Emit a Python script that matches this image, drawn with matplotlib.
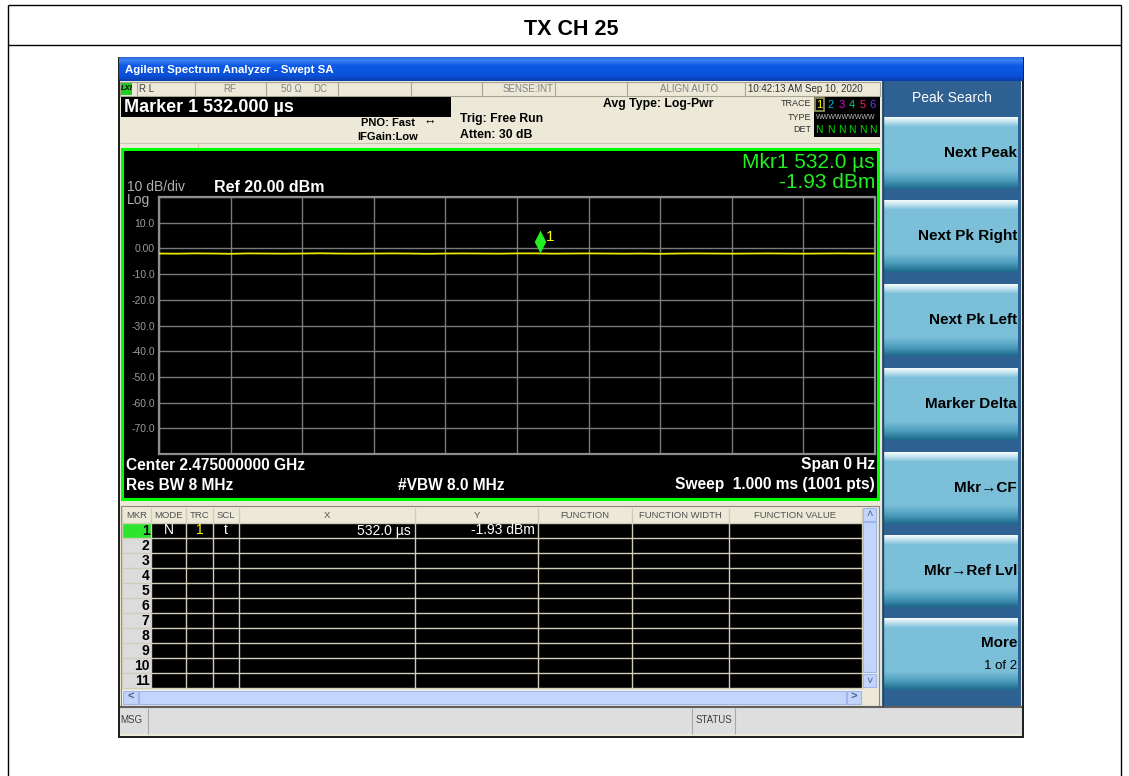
import numpy as np
import matplotlib
matplotlib.use("Agg")
import matplotlib.pyplot as plt
from matplotlib.patches import Rectangle
from matplotlib.colors import to_rgb

# ---------------- data ----------------
chart_title = "TX CH 25"
ref_level_dbm = 20.0
db_per_div = 10
y_ticks = [20, 10, 0, -10, -20, -30, -40, -50, -60, -70, -80]
y_tick_labels = ["", "10.0", "0.00", "-10.0", "-20.0", "-30.0", "-40.0", "-50.0", "-60.0", "-70.0", ""]
x_ticks_us = [0, 100, 200, 300, 400, 500, 600, 700, 800, 900, 1000]
trace_time_us = [0, 25, 50, 75, 100, 125, 150, 175, 200, 225, 250, 275, 300, 325, 350,
                 375, 400, 425, 450, 475, 500, 525, 550, 575, 600, 625, 650, 675, 700,
                 725, 750, 775, 800, 825, 850, 875, 900, 925, 950, 975, 1000]
trace_dbm = [-2.0, -2.05, -1.95, -2.0, -2.1, -1.95, -2.0, -2.05, -2.0, -1.9, -2.0, -2.05, -2.0,
             -1.95, -2.0, -2.1, -2.0, -1.95, -2.0, -2.05, -1.95, -1.93, -2.05, -2.0, -1.95, -2.0,
             -2.05, -2.0, -2.1, -2.0, -1.95, -2.0, -2.05, -2.0, -1.95, -2.0, -2.05, -2.0, -1.95,
             -2.0, -2.0]
marker_x_us = 532.0
marker_y_dbm = -1.93
table_columns = ["MKR", "MODE", "TRC", "SCL", "X", "Y", "FUNCTION", "FUNCTION WIDTH", "FUNCTION VALUE"]
table_rows = ["1", "2", "3", "4", "5", "6", "7", "8", "9", "10", "11"]
softkeys = ["Next Peak", "Next Pk Right", "Next Pk Left", "Marker Delta",
            "Mkr\u2192CF", "Mkr\u2192Ref Lvl", "More"]

FONT = ["Liberation Sans", "DejaVu Sans"]
plt.rcParams["font.family"] = FONT

W, H = 1129, 776
fig = plt.figure(figsize=(W / 100, H / 100), dpi=100)
fig.patch.set_facecolor("white")
ov = fig.add_axes([0, 0, 1, 1])
ov.set_axis_off()

BEIGE = "#ECE9D8"


def rect(x0, y0, x1, y1, fc, ec="none", lw=0, z=1):
    ov.add_patch(Rectangle((x0, y0), x1 - x0, y1 - y0, facecolor=fc, edgecolor=ec,
                           linewidth=lw, zorder=z))


def line(x0, y0, x1, y1, c, lw=1, z=2):
    ov.plot([x0, x1], [y0, y1], color=c, lw=lw, zorder=z, solid_capstyle="butt")


def txt(x, y, s, size=8, color="black", ha="left", weight="normal", z=5, **kw):
    ov.text(x, y, s, fontsize=size, color=color, ha=ha, va="center", weight=weight,
            zorder=z, **kw)


def grad(x0, y0, x1, y1, stops, z=1):
    pos = [p for p, _ in stops]
    cols = np.array([to_rgb(c) for _, c in stops])
    n = max(int(y1 - y0), 2)
    t = np.linspace(0, 1, n)
    arr = np.stack([np.interp(t, pos, cols[:, k]) for k in range(3)], axis=-1)[:, None, :]
    ov.imshow(arr, extent=(x0, x1, y1, y0), aspect="auto", interpolation="bilinear", zorder=z)


# ---------- outer document frame ----------
line(8, 5, 1121, 5, "black", 1)
line(8, 5, 8, 776, "black", 1)
line(1121, 5, 1121, 776, "black", 1)
line(8, 45, 1121, 45, "black", 1)
txt(571, 29.5, chart_title, size=15.5, weight="bold", ha="center")

# ---------- screenshot frame ----------
rect(118, 57, 1024, 738, "#202020", z=0.5)
rect(120, 81, 1022, 736, BEIGE, z=0.6)
grad(119, 57, 1023, 81, [(0, "#2E6BD8"), (0.12, "#3C82F2"), (0.35, "#0D5AE6"),
                         (0.8, "#0A50D8"), (1, "#0A3FB0")], z=0.7)
txt(125, 70, "Agilent Spectrum Analyzer - Swept SA", size=8.2, color="white", weight="bold")

# status row
rect(120, 82, 880, 96, BEIGE, ec="#A8A490", lw=0.8, z=1)
for xd in [137, 195, 266, 338, 411, 482, 555, 627, 745]:
    line(xd, 82, xd, 96, "#A8A490", 0.8)
rect(121, 83, 132, 95, "#22CC22", z=1.5)
txt(126.5, 89, "LXI", size=5.5, weight="bold", ha="center", style="italic")
txt(139, 89, "R L", size=7, color="#404040")
txt(230, 89, "RF", size=7, color="#808080", ha="center")
txt(281, 89, "50 \u03a9", size=7, color="#808080")
txt(313, 89, "DC", size=7, color="#808080")
txt(553, 89, "SENSE:INT", size=7, color="#808080", ha="right")
txt(689, 89, "ALIGN AUTO", size=7, color="#808080", ha="center")
txt(748, 89, "10:42:13 AM Sep 10, 2020", size=7, color="#303030")

# marker readout box
rect(121, 97, 451, 117, "black", z=1.5)
txt(124, 107, "Marker 1 532.000 \u00b5s", size=13, color="white", weight="bold")
txt(361, 123, "PNO: Fast", size=8, weight="bold")
txt(357, 137, "IFGain:Low", size=8, weight="bold")
txt(424, 122, "\u2194", size=9, weight="bold")
txt(460, 119, "Trig: Free Run", size=8.8, weight="bold")
txt(460, 135, "Atten: 30 dB", size=8.8, weight="bold")
txt(603, 104, "Avg Type: Log-Pwr", size=8.8, weight="bold")
txt(811, 104, "TRACE", size=6.5, color="#303030", ha="right")
txt(811, 117, "TYPE", size=6.5, color="#303030", ha="right")
txt(811, 130, "DET", size=6.5, color="#303030", ha="right")
rect(814, 97, 880, 137, "black", z=1.5)
rect(814.5, 98, 823.5, 111, "none", ec="#9A9A60", lw=1.2, z=2)
trace_num_cols = ["#FFFF00", "#00B8C8", "#E000E0", "#00CC80", "#FF2060", "#6A3CFF"]
for i, (xx, cc) in enumerate(zip([819, 830.5, 841.5, 852, 862.5, 873], trace_num_cols)):
    txt(xx, 104.5, str(i + 1), size=8, color=cc, ha="center")
    txt(xx, 130, "N", size=7.5, color="#00DD00", ha="center")
txt(846, 117.5, "W" * 9, size=5, color="#C0C0C0", ha="center")
line(120, 143, 880, 143, "#C8C4B0", 0.8)
line(198, 143, 198, 148, "#C8C4B0", 0.8)

# ---------- plot frame ----------
rect(122, 149, 877.5, 498.5, "black", ec="#00FF00", lw=2.2, z=1.2)
txt(127, 187, "10 dB/div", size=10, color="#B0B0B0")
txt(127, 200, "Log", size=10, color="#B0B0B0")
txt(214, 187, "Ref %.2f dBm" % ref_level_dbm, size=11.5, color="white", weight="bold")
txt(875, 162, "Mkr1 %.1f \u00b5s" % marker_x_us, size=15, color="#22EE22", ha="right")
txt(875, 183, "%.2f dBm" % marker_y_dbm, size=15, color="#22EE22", ha="right")
txt(126, 465, "Center 2.475000000 GHz", size=11.2, color="white", weight="bold")
txt(875, 465, "Span 0 Hz", size=11.2, color="white", weight="bold", ha="right")
txt(126, 485, "Res BW 8 MHz", size=11.2, color="white", weight="bold")
txt(398, 485, "#VBW 8.0 MHz", size=11.2, color="white", weight="bold")
txt(875, 485, "Sweep  1.000 ms (1001 pts)", size=11.2, color="white", weight="bold", ha="right")

# ---------- marker table ----------
rect(121, 506, 879, 706, BEIGE, ec="#8C8878", lw=0.8, z=1)
col_edges = [122, 151, 186, 213, 239, 415, 538, 632, 729, 862]
row_top = 523
row_h = 15
n_rows = len(table_rows)
rect(151, row_top, 862, row_top + row_h * n_rows, "black", z=1.2)
rect(122, row_top, 151, row_top + row_h * n_rows, "#DCDCDC", z=1.2)
rect(122, row_top, 151, row_top + row_h, "#2EE52E", z=1.3)
for r in range(n_rows + 1):
    line(122, row_top + r * row_h, 862, row_top + r * row_h, "#D0CCB8", 1, z=2)
for xe in col_edges:
    line(xe, 508, xe, row_top + row_h * n_rows, "#D0CCB8", 1, z=2)
for name, a, b in zip(table_columns, col_edges[:-1], col_edges[1:]):
    txt((a + b) / 2, 515, name, size=6.8, color="#505050", ha="center")
for r, lab in enumerate(table_rows):
    txt(149.5, row_top + r * row_h + 8, lab, size=10, weight="bold", ha="right")
yc = row_top + 7.5
txt(168.5, yc, "N", size=10, color="white", ha="center")
txt(199.5, yc, "1", size=10, color="#FFFF00", ha="center")
txt(226, yc, "t", size=10, color="white", ha="center")
txt(411, yc, "%.1f \u00b5s" % marker_x_us, size=10, color="white", ha="right")
txt(535, yc, "%.2f dBm" % marker_y_dbm, size=10, color="white", ha="right")
# vertical scrollbar
rect(862, 508, 877, 688, "#F3F2EC", z=1.5)
rect(863, 522, 876, 672, "#C4D5FB", ec="#9DB6EE", lw=0.8, z=1.6)
rect(863, 508, 876, 521, "#C4D5FB", ec="#9DB6EE", lw=0.8, z=1.6)
rect(863, 674, 876, 687, "#C4D5FB", ec="#9DB6EE", lw=0.8, z=1.6)
txt(869.5, 514.5, "\u02c4", size=8, color="#4D6185", ha="center")
txt(869.5, 681, "\u02c5", size=8, color="#4D6185", ha="center")
# horizontal scrollbar
rect(122, 690, 862, 704, "#F3F2EC", z=1.5)
rect(139, 690.5, 846, 703.5, "#C4D5FB", ec="#9DB6EE", lw=0.8, z=1.6)
rect(123, 690.5, 138, 703.5, "#C4D5FB", ec="#9DB6EE", lw=0.8, z=1.6)
rect(847, 690.5, 861, 703.5, "#C4D5FB", ec="#9DB6EE", lw=0.8, z=1.6)
txt(130.5, 697, "<", size=8, color="#4D6185", ha="center", weight="bold")
txt(854, 697, ">", size=8, color="#4D6185", ha="center", weight="bold")

# ---------- MSG bar ----------
line(120, 707, 1022, 707, "#606060", 1.5, z=2)
rect(120, 708, 1022, 734, "#DEDEDE", z=1.5)
for xd in [148, 692, 735]:
    line(xd, 708, xd, 734, "#A8A8A8", 0.8)
txt(120.5, 720, "MSG", size=7, color="#404040")
txt(713.5, 720, "STATUS", size=7, color="#404040", ha="center")

# ---------- softkey panel ----------
rect(882, 81, 1021, 707, "#2F6292", z=1)
line(883, 81, 883, 707, "#404040", 1, z=2)
txt(952, 98, "Peak Search", size=10, color="white", ha="center")
btn_tops = [117, 200, 284, 368, 452, 535, 618]
btn_stops = [(0, "#F2FAFC"), (0.05, "#C8E6F0"), (0.13, "#7CC0DA"), (0.75, "#7ABED8"),
             (0.88, "#4C9DBC"), (1, "#1F6B8E")]
for top, label in zip(btn_tops, softkeys):
    grad(884, top, 1018, top + 72, btn_stops, z=1.5)
    if label == "More":
        txt(1017, top + 25, label, size=11, weight="bold", ha="right")
        txt(1017, top + 48, "1 of 2", size=9.5, ha="right")
    else:
        txt(1017, top + 36, label, size=11, weight="bold", ha="right")

ov.set_xlim(0, W)
ov.set_ylim(H, 0)

# ---------- graticule / data axes ----------
gx0, gx1, gy0, gy1 = 159, 875, 197, 454
ax = fig.add_axes([gx0 / W, 1 - gy1 / H, (gx1 - gx0) / W, (gy1 - gy0) / H])
ax.set_facecolor("black")
ax.set_xlim(x_ticks_us[0], x_ticks_us[-1])
ax.set_ylim(ref_level_dbm - db_per_div * 10, ref_level_dbm)
ax.set_xticks(x_ticks_us)
ax.set_xticklabels([])
ax.set_yticks(y_ticks)
ax.set_yticklabels(y_tick_labels)
ax.tick_params(length=0, labelsize=7.5, labelcolor="#9A9A9A", pad=3)
ax.grid(True, color="#7A7A7A", lw=1)
for s in ax.spines.values():
    s.set_color("#8E8E8E")
    s.set_linewidth(1.6)
ax.plot(trace_time_us, trace_dbm, color="#E8E800", lw=1.3, zorder=3)
diamond = [(0, 0), (0.5, 1), (0, 2), (-0.5, 1), (0, 0)]
ax.plot([marker_x_us], [marker_y_dbm], marker=diamond, markersize=33, color="#22EE22",
        markeredgewidth=0, linestyle="none", zorder=4, clip_on=False)
ax.annotate("1", (marker_x_us, marker_y_dbm), xytext=(4.5, 12), textcoords="offset points",
            color="#FFFF00", fontsize=11, va="center", ha="left", zorder=5)

fig.savefig("out.png", dpi=100, facecolor="white")
